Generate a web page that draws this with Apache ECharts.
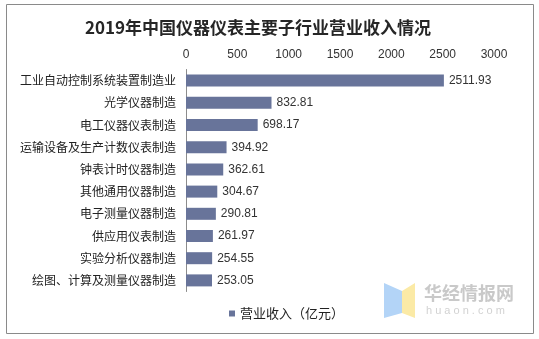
<!DOCTYPE html>
<html>
<head>
<meta charset="utf-8">
<script src="https://cdn.jsdelivr.net/npm/echarts@6/dist/echarts.min.js"></script>
<style>
  html, body { margin: 0; padding: 0; background: #fff; }
  #chart { width: 539px; height: 339px; }
</style>
</head>
<body>
<div id="chart"></div>
<script>
// Sub-industries of China's instrument & meter sector, 2019
const categories = [
  '工业自动控制系统装置制造业',
  '光学仪器制造',
  '电工仪器仪表制造',
  '运输设备及生产计数仪表制造',
  '钟表计时仪器制造',
  '其他通用仪器制造',
  '电子测量仪器制造',
  '供应用仪表制造',
  '实验分析仪器制造',
  '绘图、计算及测量仪器制造'
];
// Operating revenue, 100 million yuan
const revenue = [2511.93, 832.81, 698.17, 394.92, 362.61, 304.67, 290.81, 261.97, 254.55, 253.05];
const seriesName = '营业收入（亿元）';
const titleText = '2019年中国仪器仪表主要子行业营业收入情况';

const chart = echarts.init(document.getElementById('chart'), null, { renderer: 'canvas' });

const sansCJK = '"Noto Sans CJK SC", "Microsoft YaHei", sans-serif';
const latin = '"Liberation Sans", Arial, sans-serif';

chart.setOption({
  backgroundColor: '#ffffff',
  animation: false,
  title: {
    text: titleText,
    left: 80,
    top: 14,
    textStyle: {
      fontFamily: sansCJK,
      fontSize: 17,
      fontWeight: 'bold',
      color: '#262626'
    }
  },
  legend: {
    data: [seriesName],
    left: 224,
    top: 302,
    icon: 'rect',
    itemWidth: 6,
    itemHeight: 6,
    itemGap: 4,
    textStyle: { fontFamily: sansCJK, fontSize: 13, color: '#222' }
  },
  grid: {
    left: 186,
    right: 45,
    top: 69.5,
    bottom: 47.5,
    containLabel: false
  },
  xAxis: {
    type: 'value',
    position: 'top',
    min: 0,
    max: 3000,
    interval: 500,
    axisLine: { show: false },
    axisTick: { show: false },
    splitLine: { show: false },
    axisLabel: {
      margin: 9,
      fontFamily: latin,
      fontSize: 12,
      color: '#333',
      formatter: v => String(v)
    }
  },
  yAxis: {
    type: 'category',
    inverse: true,
    data: categories,
    axisLine: { show: true, lineStyle: { color: '#8c8c8c', width: 1 } },
    axisTick: { show: false },
    axisLabel: {
      margin: 10,
      fontFamily: sansCJK,
      fontSize: 12,
      color: '#222'
    }
  },
  series: [{
    name: seriesName,
    type: 'bar',
    data: revenue,
    barWidth: 12,
    itemStyle: { color: '#68749a' },
    label: {
      show: true,
      position: 'right',
      distance: 5,
      fontFamily: latin,
      fontSize: 12,
      color: '#333',
      formatter: p => p.value.toFixed(2)
    }
  }],
  graphic: [
    {
      type: 'rect',
      shape: { x: 6.5, y: 4.5, width: 527, height: 329 },
      style: { fill: null, stroke: '#8a8a8a', lineWidth: 1 },
      silent: true
    },
    {
      type: 'polygon',
      shape: { points: [[384, 283], [402, 291], [402, 313], [384, 318]] },
      style: { fill: '#b3d4f7' },
      silent: true
    },
    {
      type: 'polygon',
      shape: { points: [[402, 291], [415, 283], [415, 318], [402, 313]] },
      style: { fill: '#fbeaa6' },
      silent: true
    },
    {
      type: 'text',
      left: 424,
      top: 284,
      style: {
        text: '华经情报网',
        fill: '#c9c9c9',
        font: 'bold 18px "Noto Sans CJK SC", sans-serif'
      },
      silent: true
    },
    {
      type: 'text',
      left: 426,
      top: 305,
      style: {
        text: 'h u a o n . c o m',
        fill: '#d2d2d2',
        font: '11px "Liberation Sans", sans-serif'
      },
      silent: true
    }
  ]
});
</script>
</body>
</html>
